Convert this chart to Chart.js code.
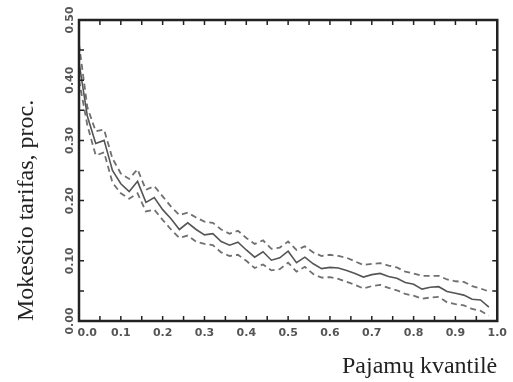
<!DOCTYPE html>
<html>
<head>
<meta charset="utf-8">
<script src="https://cdn.jsdelivr.net/npm/chart.js@4/dist/chart.umd.min.js"></script>
<style>
  html, body { margin: 0; padding: 0; background: #fff; }
  #wrap { width: 513px; height: 382px; }
</style>
</head>
<body>
<div id="wrap"><canvas id="chart"></canvas></div>
<script>
// pajamų kvantilės (0.00 ... 0.98)
const quantiles = [0.00, 0.02, 0.04, 0.06, 0.08, 0.10, 0.12, 0.14, 0.16, 0.18,
                   0.20, 0.22, 0.24, 0.26, 0.28, 0.30, 0.32, 0.34, 0.36, 0.38,
                   0.40, 0.42, 0.44, 0.46, 0.48, 0.50, 0.52, 0.54, 0.56, 0.58,
                   0.60, 0.62, 0.64, 0.66, 0.68, 0.70, 0.72, 0.74, 0.76, 0.78,
                   0.80, 0.82, 0.84, 0.86, 0.88, 0.90, 0.92, 0.94, 0.96, 0.98];

// mokesčio tarifas (įvertis)
const rate = [0.430, 0.340, 0.295, 0.300, 0.250, 0.228, 0.215, 0.232, 0.197, 0.205,
              0.185, 0.170, 0.152, 0.163, 0.152, 0.143, 0.145, 0.132, 0.126, 0.131,
              0.118, 0.106, 0.115, 0.101, 0.105, 0.116, 0.097, 0.106, 0.095, 0.087,
              0.089, 0.088, 0.084, 0.079, 0.073, 0.077, 0.079, 0.074, 0.071, 0.064,
              0.061, 0.053, 0.056, 0.057, 0.049, 0.046, 0.043, 0.036, 0.035, 0.023];

// pasikliautinojo intervalo viršutinė riba
const rateUpper = [0.460, 0.355, 0.315, 0.318, 0.270, 0.245, 0.236, 0.252, 0.218, 0.224,
                   0.207, 0.190, 0.176, 0.180, 0.172, 0.165, 0.163, 0.152, 0.145, 0.150,
                   0.138, 0.128, 0.134, 0.120, 0.122, 0.132, 0.118, 0.124, 0.114, 0.108,
                   0.110, 0.108, 0.105, 0.099, 0.093, 0.095, 0.096, 0.092, 0.089, 0.082,
                   0.079, 0.075, 0.075, 0.075, 0.069, 0.066, 0.065, 0.058, 0.054, 0.049];

// pasikliautinojo intervalo apatinė riba
const rateLower = [0.400, 0.325, 0.275, 0.280, 0.230, 0.212, 0.203, 0.212, 0.182, 0.185,
                   0.168, 0.152, 0.138, 0.142, 0.132, 0.128, 0.126, 0.114, 0.108, 0.110,
                   0.100, 0.088, 0.094, 0.084, 0.086, 0.097, 0.082, 0.090, 0.078, 0.072,
                   0.073, 0.070, 0.065, 0.060, 0.054, 0.058, 0.060, 0.055, 0.051, 0.045,
                   0.042, 0.037, 0.039, 0.040, 0.031, 0.028, 0.026, 0.020, 0.017, 0.009];

function toPoints(values) {
    return quantiles.map((q, i) => ({ x: q, y: values[i] }));
}

// ticks pointing inwards on all four sides of the box
const frameBox = {
    id: "frameBox",
    afterDraw(chart) {
        const { ctx, chartArea: a, scales } = chart;
        ctx.save();
        ctx.strokeStyle = "#222";
        ctx.lineWidth = 1.5;
        ctx.beginPath();
        scales.x.ticks.forEach(t => {
            const px = scales.x.getPixelForValue(t.value);
            ctx.moveTo(px, a.bottom); ctx.lineTo(px, a.bottom - 5);
            ctx.moveTo(px, a.top); ctx.lineTo(px, a.top + 5);
        });
        scales.y.ticks.forEach(t => {
            const py = scales.y.getPixelForValue(t.value);
            ctx.moveTo(a.left, py); ctx.lineTo(a.left + 5, py);
            ctx.moveTo(a.right, py); ctx.lineTo(a.right - 5, py);
        });
        ctx.stroke();
        ctx.lineWidth = 2.5;
        ctx.strokeRect(a.left, a.top, a.right - a.left, a.bottom - a.top);
        ctx.restore();
    }
};

const tickFont = { family: "DejaVu Sans", size: 11, weight: "bold" };
const titleFont = { family: "Liberation Serif", size: 24 };

new Chart(document.getElementById("chart"), {
    type: "line",
    data: {
        datasets: [
            {
                data: toPoints(rate),
                borderColor: "#555",
                borderWidth: 1.6
            },
            {
                data: toPoints(rateUpper),
                borderColor: "#707070",
                borderWidth: 1.8,
                borderDash: [6, 4]
            },
            {
                data: toPoints(rateLower),
                borderColor: "#707070",
                borderWidth: 1.8,
                borderDash: [6, 4]
            }
        ]
    },
    options: {
        responsive: true,
        maintainAspectRatio: false,
        animation: false,
        elements: { point: { radius: 0 }, line: { tension: 0 } },
        layout: { padding: { top: 20, right: 11, left: 0, bottom: 0 } },
        plugins: { legend: { display: false }, tooltip: { enabled: false } },
        scales: {
            x: {
                type: "linear",
                min: 0,
                max: 1,
                grid: { display: false, drawTicks: false },
                border: { display: false },
                ticks: {
                    stepSize: 0.05,
                    padding: 6,
                    color: "#555",
                    font: tickFont,
                    maxRotation: 0,
                    autoSkip: false,
                    // first label sits a little right of the corner, as in the original
                    callback: (v, i) => i === 0 ? "\u2002\u2002\u20020.0"
                        : (i % 2 === 0 ? Number(v).toFixed(1) : "")
                },
                title: {
                    display: true,
                    text: "Pajamų kvantilė",
                    align: "end",
                    color: "#222",
                    font: titleFont,
                    padding: { top: 0, bottom: 1 }
                },
                afterFit: s => { s.height = 61; }
            },
            y: {
                min: 0,
                max: 0.5,
                grid: { display: false, drawTicks: false },
                border: { display: false },
                ticks: {
                    stepSize: 0.05,
                    padding: -5,
                    color: "#555",
                    font: tickFont,
                    minRotation: 90,
                    maxRotation: 90,
                    crossAlign: "center",
                    autoSkip: false,
                    callback: (v, i) => i % 2 === 0 ? Number(v).toFixed(2) : ""
                },
                title: {
                    display: true,
                    text: "Mokesčio tarifas, proc.",
                    align: "start",
                    color: "#222",
                    font: titleFont,
                    padding: { top: 12, bottom: 0 }
                },
                afterFit: s => { s.width = 79; }
            }
        }
    },
    plugins: [frameBox]
});
</script>
</body>
</html>
